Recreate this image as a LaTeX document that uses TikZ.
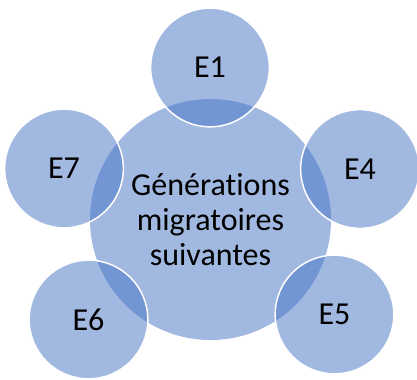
\documentclass[tikz,border=0pt]{standalone}
\usepackage{fontspec}
\setmainfont[Ligatures={NoCommon}]{Carlito}
\usetikzlibrary{positioning}
\definecolor{accentblue}{HTML}{4472C4}

\begin{document}
\begin{tikzpicture}[
	x=0.75pt,
	y=-0.75pt,
	align=center,
	font=\fontsize{24}{26.5}\selectfont,
	bubble/.style={
		circle,
		fill=accentblue,
		fill opacity=0.5,
		text opacity=1,
		inner sep=0pt
	},
	hub/.style={bubble, minimum size=180.75pt},
	spoke/.style={bubble, draw=white, draw opacity=1, line width=1.1pt, minimum size=89pt}
	]
    \useasboundingbox (0,0) rectangle (417,379);
    % centre
    \node[hub] at (210.5,219.5) (gen) {Générations\\migratoires\\suivantes};
    % generations around
    \node[spoke] at (210,67.5) (e1) {E1};
    \node[spoke] at (360,169) (e4) {E4};
    \node[spoke] at (334.5,314.5) (e5) {E5};
    \node[spoke] at (88.5,319.5) (e6) {E6};
    \node[spoke] at (64,168.5) (e7) {E7};
\end{tikzpicture}
\end{document}
